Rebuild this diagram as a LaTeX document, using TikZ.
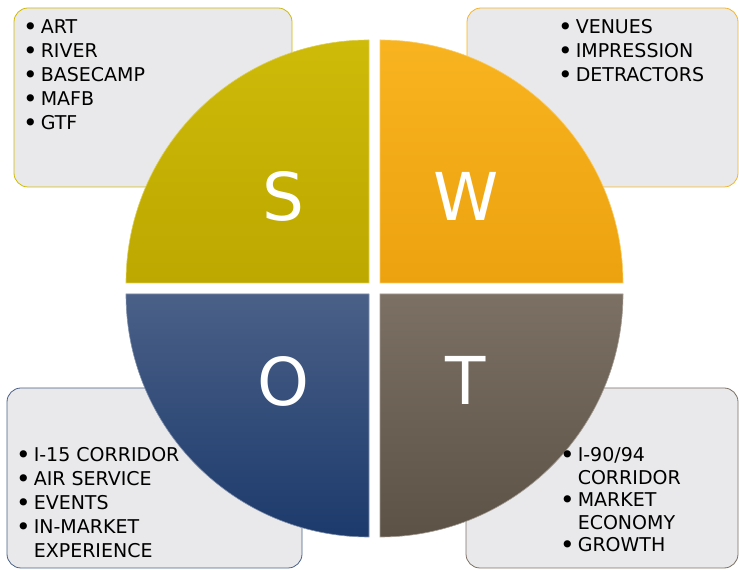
\documentclass[tikz,border=0pt]{standalone}
\usepackage{fontspec}
\setmainfont{DejaVu Sans}
\usetikzlibrary{positioning}

\definecolor{boxgray}{RGB}{233,233,235}
\definecolor{sTop}{RGB}{206,186,8}
\definecolor{sBot}{RGB}{188,168,0}
\definecolor{wTop}{RGB}{248,180,32}
\definecolor{wBot}{RGB}{236,162,14}
\definecolor{oTop}{RGB}{74,96,135}
\definecolor{oBot}{RGB}{28,58,108}
\definecolor{tTop}{RGB}{124,112,100}
\definecolor{tBot}{RGB}{92,82,70}

\newcommand\itembullet{\raisebox{-2pt}{\scalebox{1.3}{\textbullet}}}

\begin{document}
\begin{tikzpicture}[x=1pt,y=1pt]
  \tikzset{swot box/.style={draw=#1,
      line width=0.8pt,
      rounded corners=14pt,
      fill=boxgray,
      inner sep=0pt},
    quadrant/.style 2 args={top color=#1, bottom color=#2,
      draw=#1!70!white, line width=0.6pt},
    item list/.style={anchor=north west, inner sep=0pt,
      font=\fontsize{19}{24}\selectfont},
    swot letter/.style={text=white, inner sep=0pt,
      font=\fontsize{66}{66}\selectfont}
  }
  \useasboundingbox (0,0) rectangle (739,570);

  % corner boxes
  \node [swot box=sTop, minimum width=278pt, minimum height=179pt] (sbox) at (153,472.5) {};
  \node [swot box=wTop, minimum width=271pt, minimum height=179pt] (wbox) at (602.5,472.5) {};
  \node [swot box=oTop, minimum width=295pt, minimum height=180pt] (obox) at (154.5,92) {};
  \node [swot box=tTop, minimum width=272pt, minimum height=180pt] (tbox) at (602,92) {};

  % the four quarters of the circle
  \draw [quadrant={sTop}{sBot}] (369,287) -- ++(-243,0) arc[start angle=180, end angle=90, radius=243] -- cycle;
  \draw [quadrant={wTop}{wBot}] (380,287) -- ++(0,243) arc[start angle=90, end angle=0, radius=243] -- cycle;
  \draw [quadrant={oTop}{oBot}] (369,276) -- ++(0,-243) arc[start angle=270, end angle=180, radius=243] -- cycle;
  \draw [quadrant={tTop}{tBot}] (380,276) -- ++(243,0) arc[start angle=0, end angle=-90, radius=243] -- cycle;

  \node [swot letter] (S) at (283,374) {S};
  \node [swot letter] (W) at (466,374) {W};
  \node [swot letter] (O) at (283,189) {O};
  \node [swot letter] (T) at (466,190) {T};

  % bullet lists
  \node [item list] (slist) at (23,553) {\begin{tabular}{@{}l@{\hspace{3pt}}l@{}}
      \itembullet & ART\\
      \itembullet & RIVER\\
      \itembullet & BASECAMP\\
      \itembullet & MAFB\\
      \itembullet & GTF
    \end{tabular}};
  \node [item list] (wlist) at (558,553) {\begin{tabular}{@{}l@{\hspace{3pt}}l@{}}
      \itembullet & VENUES\\
      \itembullet & IMPRESSION\\
      \itembullet & DETRACTORS
    \end{tabular}};
  \node [item list] (olist) at (16,125) {\begin{tabular}{@{}l@{\hspace{3pt}}l@{}}
      \itembullet & I-15 CORRIDOR\\
      \itembullet & AIR SERVICE\\
      \itembullet & EVENTS\\
      \itembullet & IN-MARKET\\
      & EXPERIENCE
    \end{tabular}};
  \node [item list, font=\fontsize{19}{22.5}\selectfont] (tlist) at (560,124) {\begin{tabular}{@{}l@{\hspace{3pt}}l@{}}
      \itembullet & I-90/94\\
      & CORRIDOR\\
      \itembullet & MARKET\\
      & ECONOMY\\
      \itembullet & GROWTH
    \end{tabular}};
\end{tikzpicture}
\end{document}
